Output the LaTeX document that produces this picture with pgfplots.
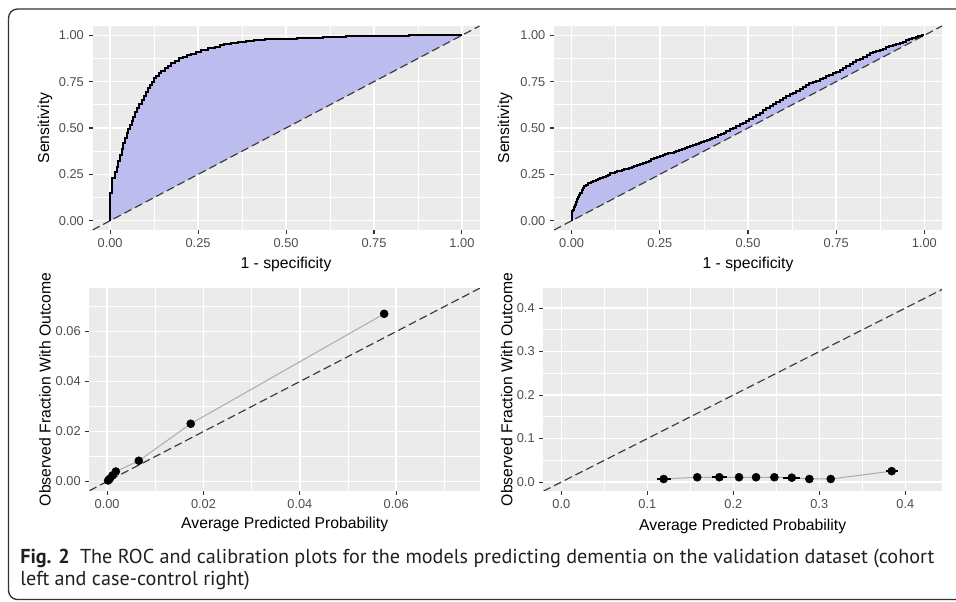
\documentclass[border=0pt]{standalone}
\usepackage{pgfplots}
\pgfplotsset{compat=1.18}
\usepackage{pgfplotstable}
\usepackage{fontspec}
\setmainfont{Liberation Sans}
\newfontfamily\capfont{PT Sans}
\definecolor{ggpanel}{HTML}{EBEBEB}
\definecolor{gg30}{HTML}{4D4D4D}
\definecolor{gg20}{HTML}{333333}
\definecolor{rocfill}{HTML}{BCBCEF}
\definecolor{dashcol}{HTML}{3D3D3D}
\definecolor{calline}{HTML}{ABABAB}
\definecolor{captxt}{HTML}{231F20}
\newcommand{\tickfont}{\fontsize{9.6}{11}\selectfont}
\newcommand{\labfont}{\fontsize{11.8}{14}\selectfont}

\pgfplotstableread{
x y
0 0
0 0.075
0.0057 0.15
0.0133 0.23
0.019 0.265
0.0237 0.291
0.028 0.32
0.033 0.354
0.038 0.385
0.0427 0.417
0.047 0.445
0.052 0.471
0.057 0.494
0.0616 0.516
0.066 0.54
0.071 0.561
0.077 0.584
0.083 0.606
0.090 0.629
0.096 0.651
0.102 0.674
0.107 0.696
0.112 0.714
0.118 0.732
0.125 0.75
0.131 0.768
0.138 0.782
0.145 0.795
0.155 0.809
0.164 0.822
0.174 0.836
0.183 0.849
0.195 0.863
0.207 0.876
0.218 0.885
0.230 0.894
0.245 0.901
0.259 0.908
0.278 0.919
0.297 0.930
0.311 0.939
0.325 0.948
0.344 0.954
0.363 0.960
0.386 0.966
0.41 0.971
0.44 0.975
0.468 0.978
0.53 0.982
0.605 0.987
0.67 0.992
0.729 0.996
0.85 0.998
0.956 1.0
1.0 1.0
}\rocL

\pgfplotstableread{
x y
0 0
0.002 0.04
0.004 0.05
0.006 0.06
0.009 0.072
0.012 0.085
0.015 0.100
0.019 0.115
0.022 0.128
0.0246 0.139
0.029 0.152
0.032 0.165
0.034 0.175
0.040 0.185
0.046 0.195
0.051 0.202
0.056 0.206
0.060 0.209
0.065 0.212
0.070 0.216
0.075 0.220
0.079 0.223
0.085 0.228
0.090 0.232
0.097 0.237
0.103 0.242
0.110 0.249
0.117 0.256
0.123 0.259
0.130 0.262
0.137 0.266
0.143 0.270
0.149 0.273
0.155 0.277
0.162 0.281
0.170 0.285
0.178 0.289
0.186 0.294
0.194 0.299
0.202 0.304
0.210 0.310
0.218 0.316
0.226 0.323
0.234 0.331
0.242 0.338
0.250 0.345
0.258 0.349
0.265 0.353
0.273 0.358
0.281 0.363
0.289 0.367
0.297 0.372
0.305 0.377
0.313 0.382
0.320 0.387
0.328 0.393
0.336 0.398
0.344 0.403
0.352 0.409
0.360 0.414
0.367 0.419
0.375 0.424
0.383 0.430
0.391 0.435
0.399 0.441
0.407 0.448
0.415 0.454
0.423 0.461
0.431 0.468
0.439 0.475
0.448 0.483
0.458 0.492
0.467 0.501
0.476 0.510
0.485 0.519
0.495 0.528
0.504 0.539
0.514 0.550
0.523 0.560
0.533 0.571
0.542 0.583
0.552 0.596
0.561 0.607
0.571 0.619
0.580 0.629
0.590 0.640
0.599 0.650
0.609 0.661
0.618 0.671
0.628 0.681
0.637 0.691
0.646 0.702
0.656 0.712
0.665 0.723
0.674 0.731
0.684 0.740
0.693 0.748
0.703 0.756
0.712 0.764
0.722 0.772
0.731 0.780
0.741 0.788
0.750 0.796
0.760 0.804
0.769 0.814
0.779 0.824
0.788 0.834
0.798 0.844
0.807 0.854
0.817 0.864
0.826 0.874
0.836 0.884
0.845 0.893
0.854 0.903
0.864 0.910
0.873 0.916
0.882 0.922
0.892 0.928
0.901 0.935
0.911 0.941
0.920 0.947
0.930 0.953
0.939 0.960
0.949 0.966
0.957 0.972
0.966 0.978
0.975 0.984
0.983 0.990
0.992 0.995
1.0 1.0
}\rocR

\pgfplotstableread{
x y
0.0002 0.0004
0.00055 0.0011
0.0011 0.0024
0.0018 0.0040
0.00657 0.0083
0.01735 0.0231
0.0575 0.0671
}\calL

\pgfplotstableread{
x y ex
0.119 0.007 0.008
0.158 0.011 0.0
0.1837 0.011 0.0087
0.2066 0.011 0.0
0.2264 0.011 0.0
0.2477 0.011 0.0
0.268 0.010 0.0097
0.2884 0.007 0.0
0.3133 0.007 0.0
0.3842 0.025 0.007
}\calR

\pgfplotsset{
  gg/.style={
    scale only axis,
    scaled ticks=false,
    axis background/.style={fill=ggpanel},
    axis line style={draw=none},
    grid=both,
    major grid style={white, line width=1.1pt},
    minor grid style={white, line width=0.55pt},
    tick align=outside,
    tick pos=left,
    major tick length=3pt,
    minor tick length=0pt,
    tick style={gg20, line width=0.8pt},
    xticklabel style={font=\tickfont, text=gg30},
    yticklabel style={font=\tickfont, text=gg30},
    xlabel style={font=\labfont, text=black, anchor=center},
    ylabel style={font=\labfont, text=black, anchor=center, rotate=0},
  },
  diag/.style={dashcol, line width=0.9pt, dash pattern=on 6pt off 3pt},
}

\begin{document}
\begin{tikzpicture}
\useasboundingbox (0,0) rectangle (717pt,450.75pt);
\draw[gg20, line width=1pt, rounded corners=6.75pt] (720pt,444pt) -- (6.4pt,444pt) -- (6.4pt,1.1pt) -- (720pt,1.1pt);

% Top-left ROC
\begin{axis}[gg, at={(69.4pt,278.25pt)}, anchor=south west, width=290.25pt, height=153pt,
  xmin=-0.05, xmax=1.05, ymin=-0.05, ymax=1.05,
  xtick={0,0.25,0.5,0.75,1}, xticklabels={0.00,0.25,0.50,0.75,1.00},
  ytick={0,0.25,0.5,0.75,1}, yticklabels={0.00,0.25,0.50,0.75,1.00},
  minor xtick={0.125,0.375,0.625,0.875}, minor ytick={0.125,0.375,0.625,0.875},
  xlabel={1 - specificity}, ylabel={Sensitivity},
  xlabel style={at={(axis description cs:0.5,-0.1667)}},
  ylabel style={at={(axis description cs:-0.1227,0.5)}}]
\addplot[const plot mark right, fill=rocfill, draw=none] table {\rocL} -- cycle;
\addplot[diag] coordinates {(-0.05,-0.05) (1.05,1.05)};
\addplot[const plot mark right, black, line width=1.5pt] table {\rocL};
\end{axis}

% Top-right ROC
\begin{axis}[gg, at={(415.5pt,278.25pt)}, anchor=south west, width=291pt, height=153pt,
  xmin=-0.05, xmax=1.05, ymin=-0.05, ymax=1.05,
  xtick={0,0.25,0.5,0.75,1}, xticklabels={0.00,0.25,0.50,0.75,1.00},
  ytick={0,0.25,0.5,0.75,1}, yticklabels={0.00,0.25,0.50,0.75,1.00},
  minor xtick={0.125,0.375,0.625,0.875}, minor ytick={0.125,0.375,0.625,0.875},
  xlabel={1 - specificity}, ylabel={Sensitivity},
  xlabel style={at={(axis description cs:0.5,-0.1667)}},
  ylabel style={at={(axis description cs:-0.1263,0.5)}}]
\addplot[const plot mark right, fill=rocfill, draw=none] table {\rocR} -- cycle;
\addplot[diag] coordinates {(-0.05,-0.05) (1.05,1.05)};
\addplot[const plot mark right, black, line width=1.5pt] table {\rocR};
\end{axis}

% Bottom-left calibration
\begin{axis}[gg, at={(67pt,82.7pt)}, anchor=south west, width=293pt, height=152pt,
  xmin=-0.0037, xmax=0.0774, ymin=-0.0037, ymax=0.0774,
  xtick={0,0.02,0.04,0.06}, xticklabels={0.00,0.02,0.04,0.06},
  ytick={0,0.02,0.04,0.06}, yticklabels={0.00,0.02,0.04,0.06},
  minor xtick={0.01,0.03,0.05,0.07}, minor ytick={0.01,0.03,0.05,0.07},
  xlabel={Average Predicted Probability}, ylabel={Observed Fraction With Outcome},
  xlabel style={at={(axis description cs:0.5,-0.165)}},
  ylabel style={at={(axis description cs:-0.1133,0.5)}}]
\addplot[diag] coordinates {(-0.0037,-0.0037) (0.0774,0.0774)};
\addplot[calline, line width=0.75pt] table {\calL};
\addplot[only marks, mark=*, mark size=3pt, black] table {\calL};
\end{axis}

% Bottom-right calibration
\begin{axis}[gg, at={(407.5pt,82.7pt)}, anchor=south west, width=299pt, height=152pt,
  xmin=-0.021, xmax=0.4427, ymin=-0.02, ymax=0.446,
  xtick={0,0.1,0.2,0.3,0.4}, xticklabels={0.0,0.1,0.2,0.3,0.4},
  ytick={0,0.1,0.2,0.3,0.4}, yticklabels={0.0,0.1,0.2,0.3,0.4},
  minor xtick={0.05,0.15,0.25,0.35}, minor ytick={0.05,0.15,0.25,0.35},
  xlabel={Average Predicted Probability}, ylabel={Observed Fraction With Outcome},
  xlabel style={at={(axis description cs:0.5,-0.175)}},
  ylabel style={at={(axis description cs:-0.092,0.5)}}]
\addplot[diag] coordinates {(-0.021,-0.021) (0.4427,0.4427)};
\addplot[calline, line width=0.75pt] table[x=x,y=y] {\calR};
\addplot[only marks, mark=*, mark size=3pt, black,
  error bars/.cd, x dir=both, x explicit, error mark=none,
  error bar style={black, line width=1.5pt}]
  table[x=x, y=y, x error=ex] {\calR};
\end{axis}

\node[anchor=base west, text=captxt, inner sep=0pt] at (15pt,28.5pt)
  {\capfont\fontsize{15.12}{18}\selectfont\textbf{Fig. 2}\hspace{0.5em}The ROC and calibration plots for the models predicting dementia on the validation dataset (cohort};
\node[anchor=base west, text=captxt, inner sep=0pt] at (15pt,12pt)
  {\capfont\fontsize{15.12}{18}\selectfont left and case-control right)};
\end{tikzpicture}
\end{document}
